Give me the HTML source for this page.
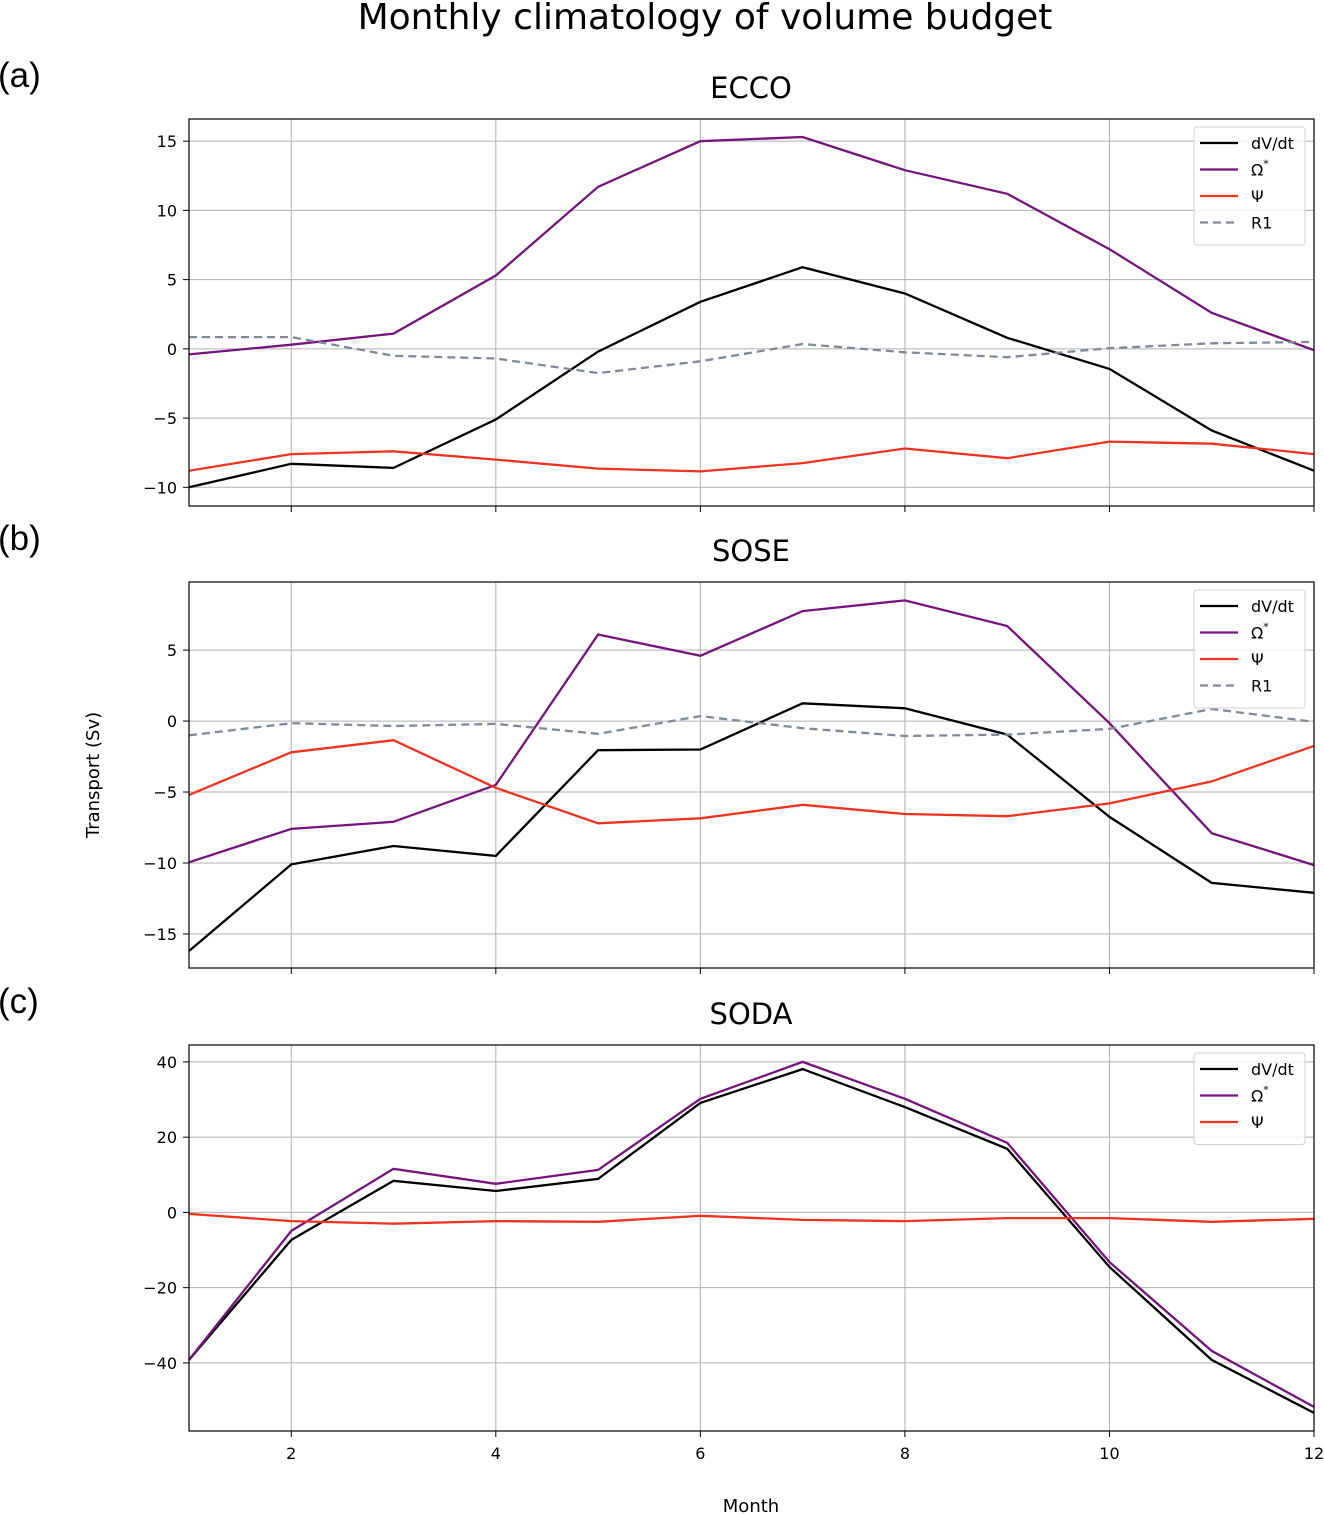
<!DOCTYPE html>
<html><head><meta charset="utf-8"><style>
body{margin:0;background:#fff;}
svg{display:block;font-family:"DejaVu Sans","Liberation Sans",sans-serif;}
</style></head><body>
<svg id="chart" width="1324" height="1514" viewBox="0 0 1324 1514"></svg>
<script>
const months=[1,2,3,4,5,6,7,8,9,10,11,12];
const xTicks=[2,4,6,8,10,12];
const titles=["ECCO","SOSE","SODA"];
const panelLabels=["(a)","(b)","(c)"];
const aDV=[-10,-8.3,-8.6,-5.1,-0.2,3.4,5.9,4.0,0.8,-1.45,-5.9,-8.8];
const aOM=[-0.4,0.3,1.1,5.3,11.7,15.0,15.3,12.9,11.2,7.2,2.6,-0.1];
const aPS=[-8.8,-7.6,-7.4,-8.0,-8.65,-8.85,-8.25,-7.2,-7.9,-6.7,-6.85,-7.6];
const aR1=[0.85,0.85,-0.5,-0.7,-1.75,-0.9,0.35,-0.25,-0.6,0.05,0.4,0.5];
const bDV=[-16.2,-10.1,-8.8,-9.5,-2.05,-2.0,1.25,0.9,-0.95,-6.75,-11.4,-12.1];
const bOM=[-9.95,-7.6,-7.1,-4.5,6.1,4.6,7.75,8.5,6.7,-0.15,-7.9,-10.15];
const bPS=[-5.2,-2.2,-1.35,-4.7,-7.2,-6.85,-5.9,-6.55,-6.7,-5.8,-4.25,-1.75];
const bR1=[-1.0,-0.15,-0.35,-0.2,-0.9,0.35,-0.5,-1.05,-0.95,-0.55,0.85,-0.05];
const cDV=[-39.2,-7.3,8.4,5.7,8.9,29.1,38.1,28.0,16.9,-14.5,-39.2,-53.3];
const cOM=[-39.2,-4.9,11.6,7.6,11.3,30.2,40,30.2,18.5,-13.2,-36.8,-51.7];
const cPS=[-0.4,-2.3,-3.0,-2.3,-2.5,-0.9,-2.0,-2.3,-1.5,-1.5,-2.5,-1.7];
const aTicks=[-10,-5,0,5,10,15];
const bTicks=[-15,-10,-5,0,5];
const cTicks=[-40,-20,0,20,40];

const NS="http://www.w3.org/2000/svg";
const svg=document.getElementById('chart');
function mk(tag,attrs,parent,text){const e=document.createElementNS(NS,tag);for(const k in attrs)e.setAttribute(k,attrs[k]);if(text!==undefined)e.textContent=text;(parent||svg).appendChild(e);return e;}
const X0=189,X1=1314;
const xs=m=>X0+(m-1)/11*(X1-X0);
const panels=[
 {top:119,bot:506,ymin:-11.35,ymax:16.6,ticks:aTicks,series:[[aDV,'#000',null,'dV/dt'],[aOM,'#75147c',null,'Ω*'],[aPS,'#ee3322',null,'Ψ'],[aR1,'#7f8a99','8,5','R1']]},
 {top:582,bot:968,ymin:-17.4,ymax:9.8,ticks:bTicks,series:[[bDV,'#000',null,'dV/dt'],[bOM,'#75147c',null,'Ω*'],[bPS,'#ee3322',null,'Ψ'],[bR1,'#7f8a99','8,5','R1']]},
 {top:1045,bot:1431,ymin:-58.1,ymax:44.5,ticks:cTicks,series:[[cDV,'#000',null,'dV/dt'],[cOM,'#75147c',null,'Ω*'],[cPS,'#ee3322',null,'Ψ']]}
];
const t=mk('text',{x:705,y:29,'text-anchor':'middle','font-size':36},svg,'Monthly climatology of volume budget');

panels.forEach((p,i)=>{
 const g=mk('g',{});
 
 
 const ys=v=>p.bot-(v-p.ymin)/(p.ymax-p.ymin)*(p.bot-p.top);
 xTicks.forEach(m=>{mk('line',{x1:xs(m),x2:xs(m),y1:p.top,y2:p.bot,stroke:'#b0b0b0','stroke-width':1},g);
  mk('line',{x1:xs(m),x2:xs(m),y1:p.bot,y2:p.bot+6,stroke:'#000','stroke-width':1},g);
  if(i===2){const l=mk('text',{x:xs(m),y:p.bot+28,'text-anchor':'middle','font-size':16},g,String(m));}});
 p.ticks.forEach(v=>{mk('line',{x1:X0,x2:X1,y1:ys(v),y2:ys(v),stroke:'#b0b0b0','stroke-width':1},g);
  mk('line',{x1:X0-6,x2:X0,y1:ys(v),y2:ys(v),stroke:'#000','stroke-width':1},g);
  const l=mk('text',{x:X0-12,y:ys(v)+6,'text-anchor':'end','font-size':16},g,v<0?'−'+Math.abs(v):String(v));
  });
 p.series.forEach(s=>{
  const d=s[0].map((v,k)=>(k?'L':'M')+xs(months[k]).toFixed(1)+','+ys(v).toFixed(1)).join('');
  const a={d:d,fill:'none',stroke:s[1],'stroke-width':2.3};if(s[2])a['stroke-dasharray']=s[2];
  const pe=mk('path',a,g);
 });
 mk('rect',{x:X0,y:p.top,width:X1-X0,height:p.bot-p.top,fill:'none',stroke:'#000','stroke-width':1.2},g);
 const tt=mk('text',{x:751,y:p.top-21,'text-anchor':'middle','font-size':29},g,titles[i]);
 
 const pl=mk('text',{x:-2,y:p.top-32,'font-size':35,'font-family':'Liberation Sans'},g,panelLabels[i]);
 
 const lg=mk('g',{},g);
 const n=p.series.length;
 mk('rect',{x:1194,y:p.top+8,width:111,height:12+n*26.5,rx:3,fill:'#fff','fill-opacity':0.8,stroke:'#d0d0d0'},lg);
 p.series.forEach((s,k)=>{const yy=p.top+24+k*26.5;
  const a={x1:1200,x2:1238,y1:yy,y2:yy,stroke:s[1],'stroke-width':2.3};if(s[2])a['stroke-dasharray']='8,5';
  mk('line',a,lg);
  const lt=mk('text',{x:1251,y:yy+6,'font-size':16},lg);
  if(s[3]==='Ω*'){lt.textContent='Ω';mk('tspan',{dy:-8,'font-size':11},lt,'*');}else lt.textContent=s[3];
  });
});
const xl=mk('text',{x:751,y:1512,'text-anchor':'middle','font-size':18},svg,'Month');

const yl=mk('text',{x:0,y:0,'text-anchor':'middle','font-size':18,transform:'translate(99,775) rotate(-90)'},svg,'Transport (Sv)');

</script>
</body></html>
